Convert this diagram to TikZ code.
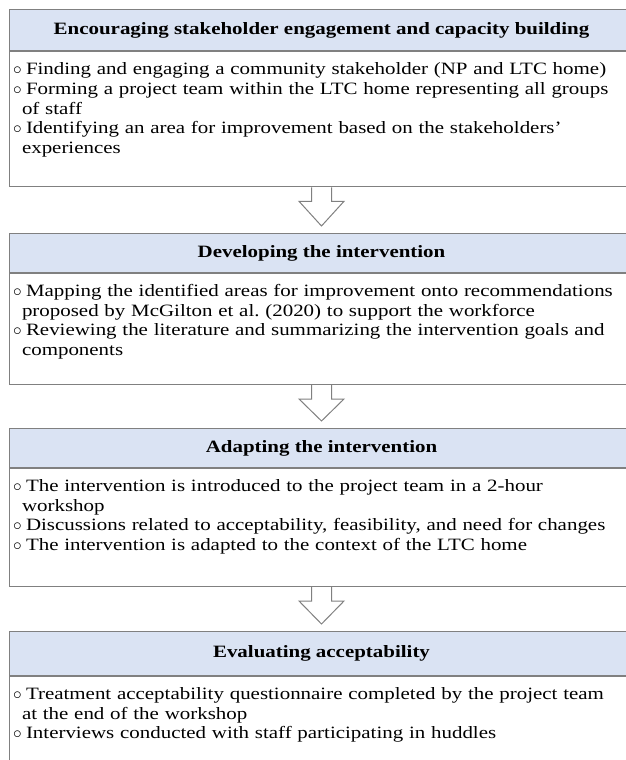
\documentclass[tikz,border=0pt]{standalone}
\usepackage{fontspec}
\setmainfont{Liberation Serif}[FakeStretch=1.21]
\usepackage{tikz}
\usetikzlibrary{positioning,calc}
\definecolor{headblue}{HTML}{DAE3F3}
\definecolor{framegray}{HTML}{808080}
\newcommand{\bulletitem}[1]{\noindent\hangindent=9pt\hangafter=1\makebox[13pt][l]{$\circ$}#1\par}
\tikzset{% 
  stage head/.style={%
    draw=framegray,
    line width=1pt,
    fill=headblue,
    anchor=north west,
    minimum width=624pt,
    minimum height=39pt,
    inner sep=0pt,
    font=\fontsize{17.3}{19.6}\selectfont\bfseries
  }
}
\tikzset{% 
  stage body/.style={%
    draw=framegray,
    line width=1pt,
    text width=617pt,
    inner xsep=3.5pt,
    inner ysep=9pt,
    text height=14pt,
    align=left,
    font=\fontsize{17.3}{19.6}\selectfont
  }
}
\tikzset{% 
  stage arrow/.style={%
    draw=framegray,
    line width=1pt,
    fill=white
  }
}

\begin{document}
\begin{tikzpicture}[x=1pt,y=1pt]
  \useasboundingbox (0,0) rectangle (626,-760);
  \clip (0,0) rectangle (626,-760);
  \node [stage head, minimum height=41pt] (enc) at (9,-9.3) {Encouraging stakeholder engagement and capacity building};
  \node [stage body, text depth=103pt, below=0pt of enc] (encbody) {%
    \bulletitem{Finding and engaging a community stakeholder (NP and LTC home)}
    \bulletitem{Forming a project team within the LTC home representing all groups\newline of staff}
    \bulletitem{Identifying an area for improvement based on the stakeholders’\newline experiences}};
  \node [stage head] (dev) at (9,-233) {Developing the intervention};
  \node [stage body, text depth=79pt, below=0pt of dev] (devbody) {%
    \bulletitem{Mapping the identified areas for improvement onto recommendations\newline proposed by McGilton et al.\ (2020) to support the workforce}
    \bulletitem{Reviewing the literature and summarizing the intervention goals and\newline components}};
  \node [stage head] (adp) at (9,-428) {Adapting the intervention};
  \node [stage body, text depth=86pt, below=0pt of adp] (adpbody) {%
    \bulletitem{The intervention is introduced to the project team in a 2-hour\newline workshop}
    \bulletitem{Discussions related to acceptability, feasibility, and need for changes}
    \bulletitem{The intervention is adapted to the context of the LTC home}};
  \node [stage head, minimum height=44pt] (eva) at (9,-631) {Evaluating acceptability};
  \node [stage body, text depth=100pt, below=0pt of eva] (evabody) {%
    \bulletitem{Treatment acceptability questionnaire completed by the project team\newline at the end of the workshop}
    \bulletitem{Interviews conducted with staff participating in huddles}};
  \draw [stage arrow] ($(encbody.south)+(-10,0)$) -- ++(0,-14) -- ++(-12.5,0) -- ($(dev.north)+(0,7)$) -- ($(encbody.south)+(22.5,-14)$) -- ++(-12.5,0) -- ++(0,14);
  \draw [stage arrow] ($(devbody.south)+(-10,0)$) -- ++(0,-14) -- ++(-12.5,0) -- ($(adp.north)+(0,7)$) -- ($(devbody.south)+(22.5,-14)$) -- ++(-12.5,0) -- ++(0,14);
  \draw [stage arrow] ($(adpbody.south)+(-10,0)$) -- ++(0,-14) -- ++(-12.5,0) -- ($(eva.north)+(0,7)$) -- ($(adpbody.south)+(22.5,-14)$) -- ++(-12.5,0) -- ++(0,14);
\end{tikzpicture}
\end{document}
